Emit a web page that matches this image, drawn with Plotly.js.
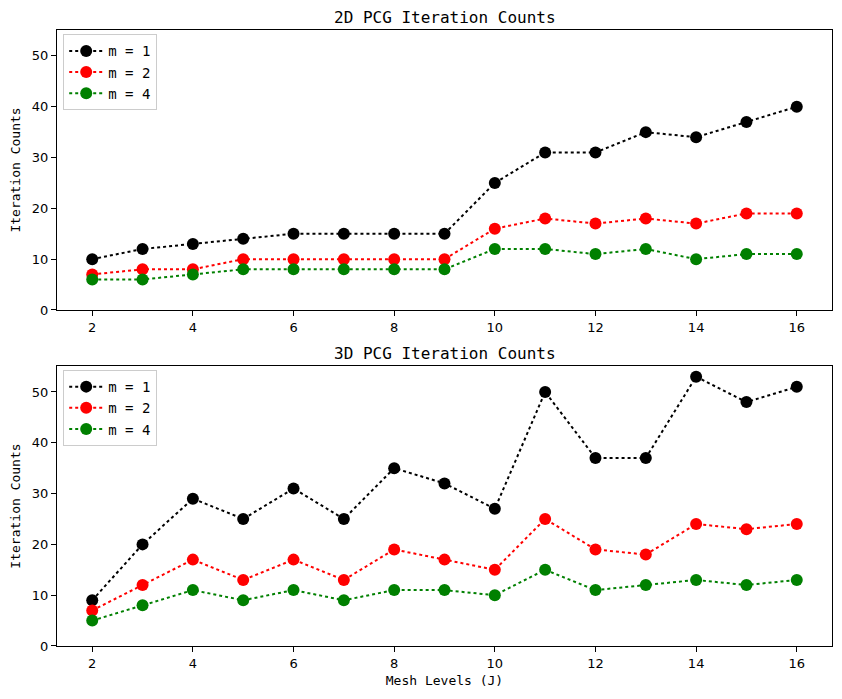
<!DOCTYPE html>
<html>
<head>
<meta charset="utf-8">
<script src="https://cdn.plot.ly/plotly-3.0.1.min.js"></script>
<style>html,body{margin:0;padding:0;background:#fff;}#chart{width:842px;height:699px;}</style>
</head>
<body>
<div id="chart"></div>
<script>
const meshLevels = [2,3,4,5,6,7,8,9,10,11,12,13,14,15,16];
const seriesNames = ["m = 1", "m = 2", "m = 4"];
const seriesColors = ["black", "red", "green"];
const counts2D_m1 = [10,12,13,14,15,15,15,15,25,31,31,35,34,37,40];
const counts2D_m2 = [7,8,8,10,10,10,10,10,16,18,17,18,17,19,19];
const counts2D_m4 = [6,6,7,8,8,8,8,8,12,12,11,12,10,11,11];
const counts3D_m1 = [9,20,29,25,31,25,35,32,27,50,37,37,53,48,51];
const counts3D_m2 = [7,12,17,13,17,13,19,17,15,25,19,18,24,23,24];
const counts3D_m4 = [5,8,11,9,11,9,11,11,10,15,11,12,13,12,13];
const xTicks = [2,4,6,8,10,12,14,16];
const yTicks = [0,10,20,30,40,50];

const FONT = "DejaVu Sans Mono, monospace";
const TICKFONT = "DejaVu Sans, sans-serif";
const data2D = [counts2D_m1, counts2D_m2, counts2D_m4];
const data3D = [counts3D_m1, counts3D_m2, counts3D_m4];
const traces = [];
data2D.forEach((ys, i) => traces.push({
  x: meshLevels, y: ys, name: seriesNames[i], mode: "lines+markers",
  line: {color: seriesColors[i], dash: "dot", width: 2},
  marker: {color: seriesColors[i], size: 12},
  xaxis: "x", yaxis: "y", legend: "legend"
}));
data3D.forEach((ys, i) => traces.push({
  x: meshLevels, y: ys, name: seriesNames[i], mode: "lines+markers",
  line: {color: seriesColors[i], dash: "dot", width: 2},
  marker: {color: seriesColors[i], size: 12},
  xaxis: "x2", yaxis: "y2", legend: "legend2"
}));

const axisCommon = {
  showline: true, mirror: true, linecolor: "black", linewidth: 1,
  ticks: "outside", ticklen: 5, tickcolor: "black", showgrid: false, zeroline: false,
  tickfont: {family: TICKFONT, size: 13, color: "black"}
};
const legendCommon = {
  bgcolor: "rgba(255,255,255,0.8)", bordercolor: "#cccccc", borderwidth: 1,
  font: {family: FONT, size: 14, color: "black"}, xanchor: "left", yanchor: "top",
  tracegroupgap: 0, itemwidth: 34
};
const layout = {
  width: 842, height: 699,
  margin: {l: 57, r: 10, t: 30, b: 53},
  paper_bgcolor: "white", plot_bgcolor: "white",
  font: {family: FONT, color: "black"},
  showlegend: true,
  xaxis: Object.assign({}, axisCommon, {domain: [0,1], range: [1.3, 16.7], tickvals: xTicks, anchor: "y"}),
  yaxis: Object.assign({}, axisCommon, {domain: [0.5455, 1], range: [0, 55.1], tickvals: yTicks, anchor: "x",
    title: {text: "Iteration Counts", font: {family: FONT, size: 13}, standoff: 8}}),
  xaxis2: Object.assign({}, axisCommon, {domain: [0,1], range: [1.3, 16.7], tickvals: xTicks, anchor: "y2",
    title: {text: "Mesh Levels (J)", font: {family: FONT, size: 13}, standoff: 6}}),
  yaxis2: Object.assign({}, axisCommon, {domain: [0, 0.4545], range: [0, 55.1], tickvals: yTicks, anchor: "x2",
    title: {text: "Iteration Counts", font: {family: FONT, size: 13}, standoff: 8}}),
  legend: Object.assign({}, legendCommon, {x: 0.008, y: 0.993}),
  legend2: Object.assign({}, legendCommon, {x: 0.008, y: 0.448}),
  annotations: [
    {text: "2D PCG Iteration Counts", xref: "paper", yref: "paper", x: 0.5, y: 1, yshift: 1,
     xanchor: "center", yanchor: "bottom", showarrow: false, font: {family: FONT, size: 16, color: "black"}},
    {text: "3D PCG Iteration Counts", xref: "paper", yref: "paper", x: 0.5, y: 0.4545, yshift: 1,
     xanchor: "center", yanchor: "bottom", showarrow: false, font: {family: FONT, size: 16, color: "black"}}
  ]
};
Plotly.newPlot("chart", traces, layout, {displayModeBar: false, staticPlot: true});
</script>
</body>
</html>
